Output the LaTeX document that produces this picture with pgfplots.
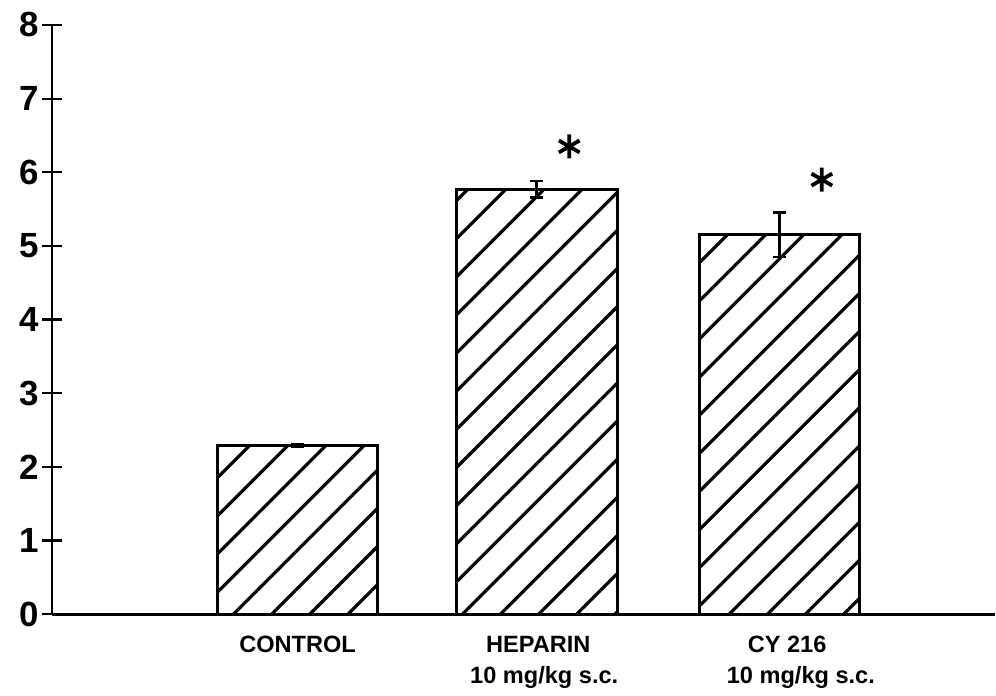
\documentclass[border=0pt]{standalone}
\usepackage{pgfplots}
\pgfplotsset{compat=1.18}
\usepackage{fontspec}
\setmainfont{Liberation Sans}
\usetikzlibrary{patterns.meta}
\begin{document}
\begin{tikzpicture}
\begin{axis}[
  scale only axis,
  width=472pt, height=295pt,
  xmin=52, xmax=996, ymin=0, ymax=8,
  clip=false,
  axis x line=bottom, axis y line=left,
  axis line style={-, line width=1.4pt},
  ytick={0,1,2,3,4,5,6,7,8},
  tick align=center,
  major tick length=10pt,
  ytick style={line width=1.1pt, black},
  yticklabel style={font=\bfseries\fontsize{17.5}{20}\selectfont, xshift=2pt},
  /pgf/number format/assume math mode=true,
  xtick={298,537.5,780.5},
  xticklabels={CONTROL,
    {\hspace*{15.5pt}HEPARIN\\\hspace*{7.5pt}10 mg/kg s.c.},
    {\hspace*{32pt}CY 216\\\hspace*{21.5pt}10 mg/kg s.c.}},
  xticklabel style={font=\bfseries\fontsize{11.8}{15.5}\selectfont, align=left, anchor=north, yshift=-2.5pt},
  xtick style={draw=none},
]
\path (axis cs:0,-1.085) rectangle (axis cs:996,8.339);
\addplot[ybar, bar width=161, draw=black, line width=1.5pt, fill=white,
  postaction={pattern={Lines[angle=45,distance=13.5pt,line width=1.6pt]}},
  error bars/.cd, y dir=both, y explicit,
  error bar style={line width=1.3pt},
  error mark options={rotate=90, mark size=3.2pt, line width=1.4pt}]
  coordinates {(298,2.29) +- (0,0.02) (537.5,5.77) +- (0,0.11) (780.5,5.15) +- (0,0.3)};
\addplot[only marks, mark=asterisk, mark size=6pt, line width=1.9pt, black]
  coordinates {(570,6.35) (823,5.9)};
\end{axis}
\end{tikzpicture}
\end{document}
